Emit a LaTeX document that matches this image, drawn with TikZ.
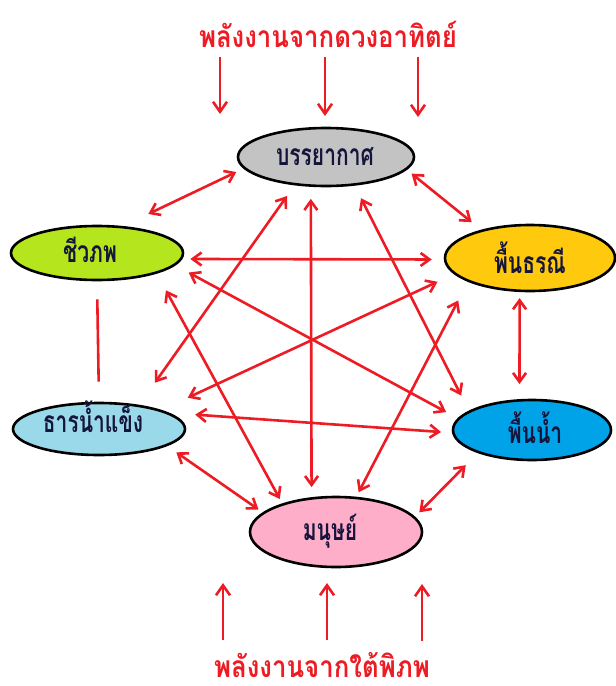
\documentclass[tikz,border=0pt]{standalone}
\usepackage{fontspec}
\newfontfamily\thaifont[Script=Thai,FakeStretch=0.7]{Loma}
\newfontfamily\thaiwide[Script=Thai,FakeStretch=0.86]{Loma}
\usetikzlibrary{shapes.geometric,arrows.meta}

\definecolor{linkred}{RGB}{237,28,36}
\definecolor{labelink}{RGB}{20,20,60}
\definecolor{atmgray}{RGB}{195,195,195}
\definecolor{biogreen}{RGB}{181,230,29}
\definecolor{earthgold}{RGB}{255,201,14}
\definecolor{icecyan}{RGB}{153,217,234}
\definecolor{waterblue}{RGB}{0,162,232}
\definecolor{humanpink}{RGB}{255,174,201}

\begin{document}
\begin{tikzpicture}[x=1pt,y=-1pt,
  sphere/.style={ellipse,draw=black,line width=2.6pt,inner sep=0pt},
  spheretext/.style={anchor=base,inner sep=0pt,text=labelink,
    font=\thaifont\bfseries\fontsize{30}{34}\selectfont},
  energy/.style={anchor=base,inner sep=0pt,text=linkred,
    font=\thaiwide\bfseries\fontsize{30}{34}\selectfont},
  link/.style={draw=linkred,line width=2.6pt,>={Straight Barb[length=9pt,width=13pt]},<->},
  plainlink/.style={draw=linkred,line width=2.6pt},
  feed/.style={draw=linkred,line width=2.6pt,>={Straight Barb[length=10pt,width=14pt]},->}]

\useasboundingbox (0,0) rectangle (616,686);

% the six spheres of the Earth system
\node[sphere,fill=atmgray,minimum width=176pt,minimum height=58pt] (atm) at (326,157) {};
\node[sphere,fill=biogreen,minimum width=172pt,minimum height=54pt] (bio) at (97,253) {};
\node[sphere,fill=earthgold,minimum width=170pt,minimum height=66pt] (earth) at (530,258) {};
\node[sphere,fill=icecyan,minimum width=172pt,minimum height=52pt] (ice) at (99,429) {};
\node[sphere,fill=waterblue,minimum width=158pt,minimum height=60pt] (water) at (532,430) {};
\node[sphere,fill=humanpink,minimum width=172pt,minimum height=70pt] (human) at (336,532) {};

% their names
\node[spheretext] (atmname) at (325,165) {บรรยากาศ};
\node[spheretext] (bioname) at (90,262) {ชีวภพ};
\node[spheretext] (earthname) at (530,273) {พื้นธรณี};
\node[spheretext] (icename) at (93,432) {ธารน้ำแข็ง};
\node[spheretext] (watername) at (535,443) {พื้นน้ำ};
\node[spheretext] (humanname) at (330,540) {มนุษย์};

% energy sources
\node[energy] (sun) at (328,47) {พลังงานจากดวงอาทิตย์};
\node[energy] (core) at (322,677) {พลังงานจากใต้พิภพ};

\coordinate (sunA) at (220,57);  \coordinate (sunAe) at (220,114);
\coordinate (sunB) at (325,57);  \coordinate (sunBe) at (325,116);
\coordinate (sunC) at (418,57);  \coordinate (sunCe) at (418,117);
\coordinate (coreA) at (223,640); \coordinate (coreAe) at (223,583);
\coordinate (coreB) at (327,640); \coordinate (coreBe) at (327,583);
\coordinate (coreC) at (422,641); \coordinate (coreCe) at (422,584);

\draw[feed] (sunA) -- (sunAe);
\draw[feed] (sunB) -- (sunBe);
\draw[feed] (sunC) -- (sunCe);
\draw[feed] (coreA) -- (coreAe);
\draw[feed] (coreB) -- (coreBe);
\draw[feed] (coreC) -- (coreCe);

% interactions between the spheres
\draw[link,shorten <=8pt,shorten >=28pt] (atm.188.1) -- (bio.46.8);
\draw[link,shorten <=6pt,shorten >=12pt] (atm.351.1) -- (earth.150.1);
\draw[plainlink,shorten <=18pt,shorten >=20pt] (bio.south) -- (ice.north);
\draw[link,shorten <=6pt,shorten >=15pt] (earth.253) -- (water.112);
\draw[link,shorten <=11pt,shorten >=5pt] (ice.-14.7) -- (human.165);
\draw[link,shorten <=17pt,shorten >=6pt] (water.203.5) -- (human.11.7);
\draw[link,shorten <=8pt,shorten >=12pt] (bio.-4.8) -- (earth.181.35);
\draw[link,shorten <=26pt,shorten >=11pt] (ice.13) -- (water.182.7);
\draw[link,shorten <=12pt,shorten >=10pt] (atm.243.9) -- (human.125.5);
\draw[link,shorten <=13pt,shorten >=27pt] (atm.222) -- (ice.31);
\draw[link,shorten <=14pt,shorten >=17pt] (atm.315) -- (water.163.4);
\draw[link,shorten <=15pt,shorten >=13pt] (bio.-9.9) -- (water.171.6);
\draw[link,shorten <=19pt,shorten >=5pt] (bio.-19.7) -- (human.152.8);
\draw[link,shorten <=18pt,shorten >=29pt] (earth.192.7) -- (ice.17.7);
\draw[link,shorten <=21pt,shorten >=5pt] (earth.201.2) -- (human.60.4);
\end{tikzpicture}
\end{document}
